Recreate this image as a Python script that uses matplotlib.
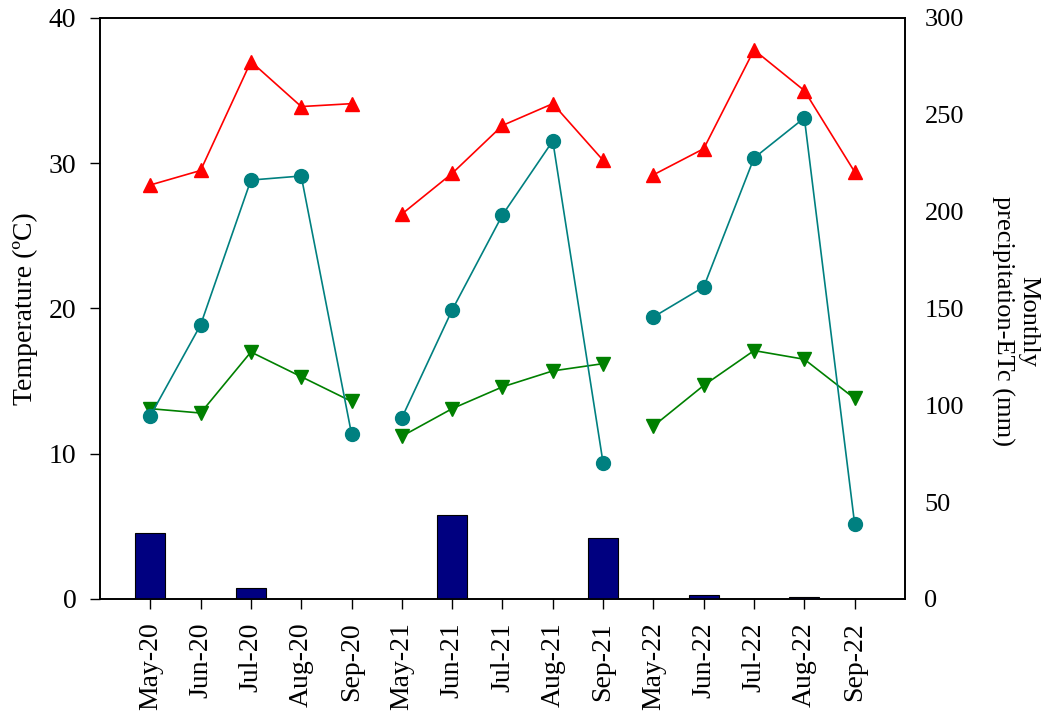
import numpy as np
import matplotlib
matplotlib.use("Agg")
from matplotlib import pyplot as plt

plt.rcParams['font.family'] = ['Liberation Serif', 'DejaVu Serif']
plt.rcParams['font.size'] = 20

# Data
months = ['May-20', 'Jun-20', 'Jul-20', 'Aug-20', 'Sep-20',
          'May-21', 'Jun-21', 'Jul-21', 'Aug-21', 'Sep-21',
          'May-22', 'Jun-22', 'Jul-22', 'Aug-22', 'Sep-22']
t_max = [28.5, 29.5, 37.0, 33.9, 34.1,
         26.5, 29.3, 32.6, 34.1, 30.2,
         29.2, 31.0, 37.8, 35.0, 29.4]
t_min = [13.1, 12.8, 17.0, 15.3, 13.6,
         11.2, 13.1, 14.6, 15.7, 16.2,
         11.9, 14.7, 17.1, 16.5, 13.8]
etc = [94.5, 141.5, 216.3, 218.4, 85.2,
       93.5, 149.2, 198.3, 236.5, 70.2,
       145.6, 161.1, 227.7, 248.4, 38.7]
precip = [34.0, 0, 5.5, 0, 0,
          0, 43.4, 0, 0, 31.5,
          0, 1.8, 0, 0.8, 0]

x = np.arange(len(months))
seasons = [slice(0, 5), slice(5, 10), slice(10, 15)]

fig = plt.figure(figsize=(10.49, 7.19), dpi=100)
ax = fig.add_axes([0.0953, 0.167, 0.7674, 0.808])
ax2 = ax.twinx()

# precipitation bars and ETc on the right axis
ax2.bar(x, precip, width=0.6, color='#000080', edgecolor='black', linewidth=0.8)

for s in seasons:
    ax.plot(x[s], np.array(t_max)[s], color='red', marker='^', markersize=10, linewidth=1.2)
    ax.plot(x[s], np.array(t_min)[s], color='green', marker='v', markersize=10, linewidth=1.2)
    ax2.plot(x[s], np.array(etc)[s], color='teal', marker='o', markersize=10, linewidth=1.2)

ax.set_xlim(-1, 15)
ax.set_ylim(0, 40)
ax2.set_ylim(0, 300)
ax.set_yticks([0, 10, 20, 30, 40])
ax2.set_yticks([0, 50, 100, 150, 200, 250, 300])

ax.set_xticks(x)
ax.set_xticklabels(months, rotation=90)
ax.tick_params(axis='x', direction='out', length=7, width=1, pad=10)
ax.tick_params(axis='y', direction='out', length=7, width=1, pad=10)
ax2.tick_params(axis='y', length=0, pad=14, labelsize=19)

ax.set_ylabel('Temperature (ºC)', labelpad=8)
ax2.set_ylabel('Monthly\nprecipitation-ETc (mm)', rotation=270, fontsize=19)
ax2.yaxis.set_label_coords(1.167, 0.478)

for sp in ax2.spines.values():
    sp.set_linewidth(1.2)
for sp in ax.spines.values():
    sp.set_linewidth(1.2)

fig.savefig('out.png', dpi=100)
